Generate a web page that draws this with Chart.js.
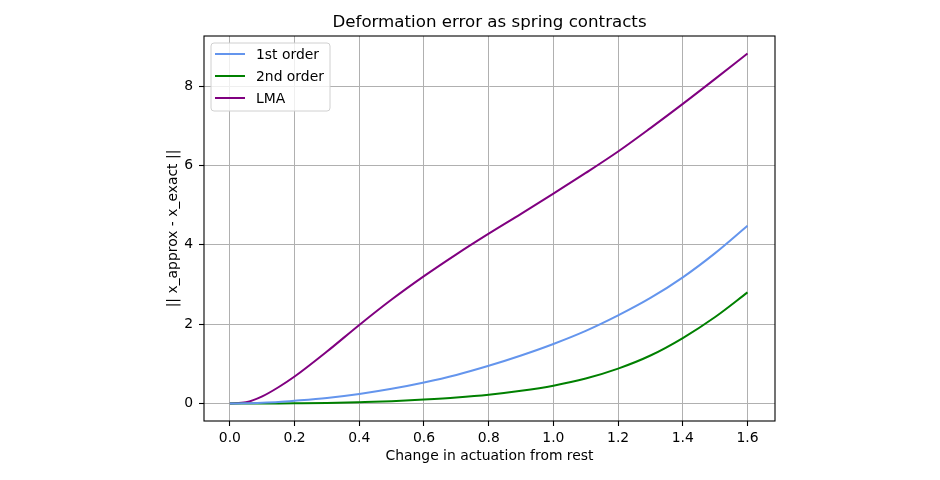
<!DOCTYPE html>
<html>
<head>
<meta charset="utf-8">
<script src="https://cdn.jsdelivr.net/npm/chart.js@4.4.1/dist/chart.umd.min.js"></script>
<style>
  body{margin:0;background:#fff}
  #wrap{width:940px;height:480px;position:relative}
</style>
</head>
<body>
<div id="wrap"><canvas id="myChart"></canvas></div>
<script>
// values
const actuation=[0,0.05,0.1,0.15,0.2,0.3,0.4,0.5,0.6,0.7,0.8,0.9,1.0,1.1,1.2,1.3,1.4,1.5,1.6]
const firstOrder=[0,0.005,0.02,0.04,0.07,0.14,0.24,0.37,0.53,0.72,0.95,1.21,1.50,1.83,2.22,2.66,3.18,3.79,4.48]
const secondOrder=[0,0,0.001,0.003,0.006,0.015,0.035,0.06,0.10,0.15,0.22,0.32,0.45,0.63,0.88,1.21,1.65,2.18,2.80]
const lma=[0,0.03,0.18,0.41,0.68,1.31,1.98,2.62,3.21,3.76,4.28,4.78,5.29,5.81,6.35,6.94,7.55,8.18,8.82]
const xTicks=[0,0.2,0.4,0.6,0.8,1.0,1.2,1.4,1.6]
const yTicks=[0,2,4,6,8]

const toPoints=(ys)=>actuation.map((x,i)=>({x:x,y:ys[i]}))

Chart.defaults.font.family='DejaVu Sans'
Chart.defaults.font.size=13.9
Chart.defaults.color='#000'

// matplotlib style frame round the plot area
const frame={
  id:'frame',
  afterDraw(chart){
    const ctx=chart.ctx, a=chart.chartArea
    ctx.save()
    ctx.strokeStyle='#000'
    ctx.lineWidth=1.1
    ctx.strokeRect(a.left,a.top,a.right-a.left,a.bottom-a.top)
    ctx.restore()
  }
}

// legend box in the upper left corner, inside the axes
const innerLegend={
  id:'innerLegend',
  afterDraw(chart){
    const ctx=chart.ctx, a=chart.chartArea
    const x=a.left+7, y=a.top+7, w=119, h=68
    ctx.save()
    ctx.beginPath()
    ctx.roundRect(x,y,w,h,3)
    ctx.fillStyle='rgba(255,255,255,0.8)'
    ctx.fill()
    ctx.strokeStyle='#d0d0d0'
    ctx.lineWidth=1
    ctx.stroke()
    ctx.font='13.9px "DejaVu Sans"'
    ctx.textBaseline='middle'
    ctx.textAlign='left'
    chart.data.datasets.forEach((ds,i)=>{
      const ly=y+11+i*22
      ctx.beginPath()
      ctx.moveTo(x+4,ly)
      ctx.lineTo(x+34,ly)
      ctx.strokeStyle=ds.borderColor
      ctx.lineWidth=2
      ctx.stroke()
      ctx.fillStyle='#000'
      ctx.fillText(ds.label,x+45,ly+1)
    })
    ctx.restore()
  }
}

const data={
  datasets:[{
    label:'1st order',
    data:toPoints(firstOrder),
    borderColor:'#6495ED'
  },{
    label:'2nd order',
    data:toPoints(secondOrder),
    borderColor:'#008000'
  },{
    label:'LMA',
    data:toPoints(lma),
    borderColor:'#800080'
  }]
}

const config={
  type:'line',
  data,
  options:{
    responsive:true,
    maintainAspectRatio:false,
    animation:false,
    devicePixelRatio:1,
    layout:{padding:{left:0,right:165,top:0,bottom:0}},
    elements:{
      point:{radius:0},
      line:{borderWidth:2,cubicInterpolationMode:'monotone',fill:false}
    },
    plugins:{
      legend:{display:false},
      tooltip:{enabled:false},
      title:{
        display:true,
        text:'Deformation error as spring contracts',
        fullSize:false,
        font:{size:16.67,weight:'normal'},
        padding:{top:12.5,bottom:3.5}
      }
    },
    scales:{
      x:{
        type:'linear',
        min:-0.08,
        max:1.685,
        afterBuildTicks(scale){scale.ticks=xTicks.map(v=>({value:v}))},
        afterFit(scale){scale.height=59},
        ticks:{padding:4,maxRotation:0,callback:(v)=>v.toFixed(1)},
        grid:{color:'#b0b0b0',lineWidth:1,tickColor:'#000',tickLength:5,tickWidth:1.1},
        border:{display:false},
        title:{display:true,text:'Change in actuation from rest',padding:{top:0,bottom:15.5}}
      },
      y:{
        min:-0.44,
        max:9.26,
        afterBuildTicks(scale){scale.ticks=yTicks.map(v=>({value:v}))},
        afterFit(scale){scale.width=204},
        ticks:{padding:6,callback:(v)=>String(v)},
        grid:{color:'#b0b0b0',lineWidth:1,tickColor:'#000',tickLength:5,tickWidth:1.1},
        border:{display:false},
        title:{display:true,text:'|| x_approx - x_exact ||',padding:{top:165,bottom:0}}
      }
    }
  },
  plugins:[frame,innerLegend]
}

const myChart=new Chart(document.getElementById('myChart'),config)
</script>
</body>
</html>
